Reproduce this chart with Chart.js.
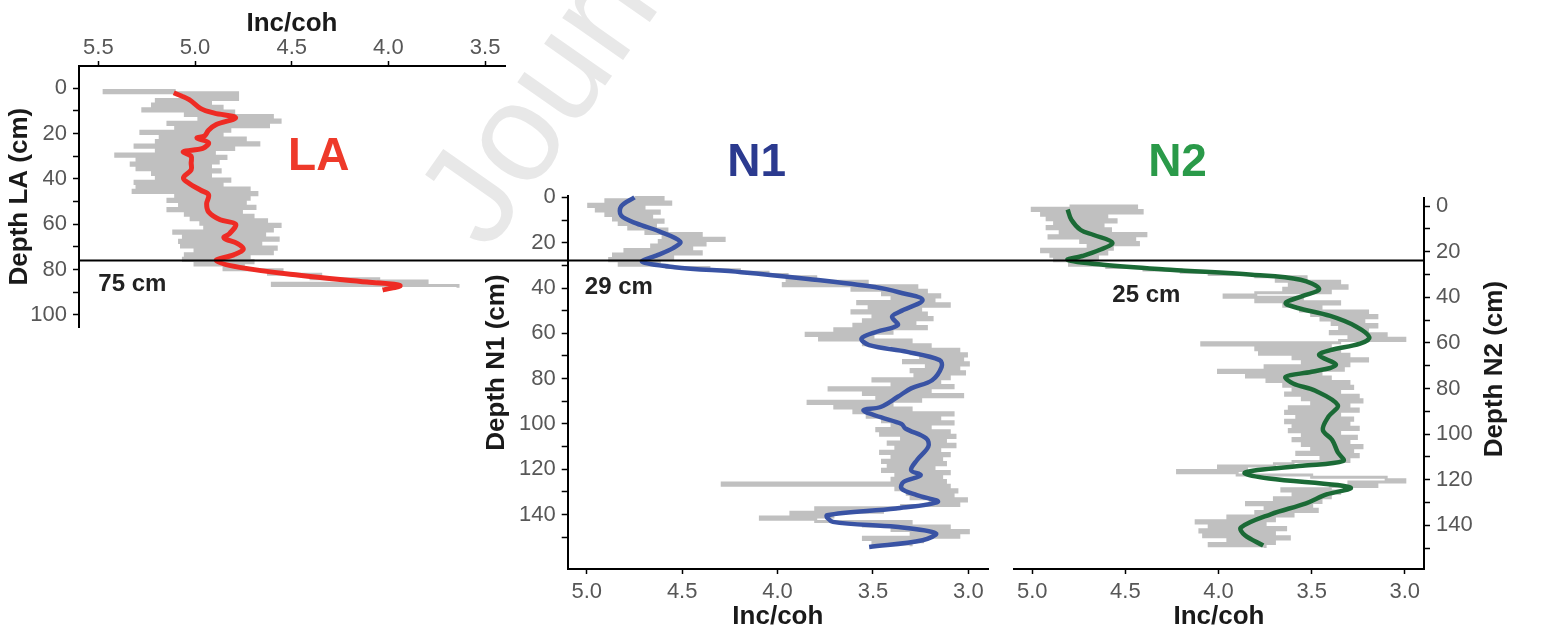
<!DOCTYPE html>
<html>
<head>
<meta charset="utf-8">
<title>Inc/coh depth profiles</title>
<script src="https://cdn.jsdelivr.net/npm/chart.js@4.4.1/dist/chart.umd.min.js"></script>
<style>
  html, body { margin: 0; padding: 0; background: #fff; }
  #stage { position: relative; width: 1543px; height: 634px; overflow: hidden; }
  #stage canvas { position: absolute; left: 0; top: 0; }
  .watermark {
    position: absolute; left: 488px; top: 135px;
    font: 140px 'Liberation Sans', Arial, sans-serif; line-height: 1;
    color: #e8e8e8; white-space: nowrap;
    transform-origin: 0 118px; transform: rotate(-55deg);
  }
</style>
</head>
<body>
<div id="stage">
  <div class="watermark">Journal Pre-proof</div>
  <canvas id="la-chart" width="1543" height="634"></canvas>
  <canvas id="n1-chart" width="1543" height="634"></canvas>
  <canvas id="n2-chart" width="1543" height="634"></canvas>
</div>
<script>
// ---- raw Inc/coh profiles, one value per cm starting at *_RAW_TOP ----
const LA_RAW_TOP = 1;
const LA_RAW = [
  5.10, 5.47, 4.78, 5.05, 4.78, 5.20, 4.92, 5.22, 4.86, 5.27,
  4.80, 5.05, 4.60, 4.98, 4.56, 5.14, 4.62, 5.10, 4.82, 5.28,
  4.86, 5.18, 4.74, 5.20, 4.67, 5.31, 4.80, 5.20, 4.90, 5.41,
  4.84, 5.30, 4.88, 5.33, 4.92, 5.30, 4.87, 5.22, 4.92, 5.20,
  4.82, 5.31, 4.86, 5.30, 4.72, 5.32, 4.68, 5.10, 4.72, 5.14,
  4.74, 5.08, 4.69, 5.14, 4.76, 5.05, 4.70, 5.02, 4.63, 4.97,
  4.56, 4.95, 4.60, 5.11, 4.64, 5.06, 4.57, 5.08, 4.66, 5.07,
  4.58, 5.00, 4.60, 5.05, 4.72, 5.06, 4.70, 5.00, 4.75, 4.85,
  4.55, 4.62, 4.35, 4.40, 4.05, 3.80, 4.60, 3.64
];

const N1_RAW_TOP = 0;
const N1_RAW = [
  4.75, 4.60, 4.90, 4.56, 4.99, 4.70, 4.95, 4.62, 4.90, 4.66,
  4.86, 4.60, 4.83, 4.64, 4.78, 4.58, 4.69, 4.40, 4.60, 4.28,
  4.62, 4.38, 4.66, 4.45, 4.80, 4.40, 4.86, 4.55, 4.88, 4.62,
  4.83, 4.58, 4.36, 4.20, 4.05, 3.95, 3.80, 3.95, 3.53, 3.97,
  3.27, 3.61, 3.22, 3.45, 3.15, 3.40, 3.18, 3.58, 3.10, 3.52,
  3.25, 3.61, 3.22, 3.50, 3.19, 3.55, 3.28, 3.60, 3.22, 3.70,
  3.40, 3.85, 3.50, 3.78, 3.30, 3.55, 3.20, 3.40, 3.05, 3.30,
  3.01, 3.25, 3.03, 3.34, 3.00, 3.22, 3.05, 3.30, 3.02, 3.28,
  3.10, 3.50, 3.15, 3.40, 3.08, 3.73, 3.20, 3.55, 3.03, 3.48,
  3.25, 3.84, 3.40, 3.70, 3.30, 3.60, 3.08, 3.53, 3.15, 3.45,
  3.08, 3.40, 3.20, 3.48, 3.10, 3.46, 3.07, 3.35, 3.12, 3.42,
  3.07, 3.38, 3.15, 3.46, 3.10, 3.40, 3.14, 3.45, 3.12, 3.42,
  3.18, 3.45, 3.10, 3.38, 3.14, 3.40, 3.12, 4.29, 3.10, 3.38,
  3.06, 3.32, 3.08, 3.30, 3.01, 3.20, 3.05, 3.35, 3.80, 3.45,
  3.93, 3.71, 4.09, 3.80, 3.30, 3.55, 3.10, 3.40, 3.00, 3.30,
  3.05, 3.55, 3.24, 3.50, 3.30
];

const N2_RAW_TOP = 0;
const N2_RAW = [
  4.80, 4.44, 5.00, 4.41, 4.95, 4.60, 4.92, 4.55, 4.88, 4.62,
  4.92, 4.58, 4.85, 4.39, 4.91, 4.45, 4.74, 4.43, 4.70, 4.57,
  4.95, 4.60, 4.90, 4.65, 4.88, 4.75, 4.80, 4.60, 4.40, 4.20,
  4.05, 3.80, 3.53, 3.69, 3.35, 3.62, 3.31, 3.65, 3.40, 3.80,
  3.97, 3.55, 3.80, 3.35, 3.65, 3.45, 3.56, 3.20, 3.50, 3.15,
  3.45, 3.22, 3.39, 3.15, 3.35, 3.20, 3.40, 3.10, 3.30, 3.00,
  3.35, 4.09, 3.40, 3.80, 3.35, 3.78, 3.30, 3.60, 3.20, 3.55,
  3.30, 3.75, 3.33, 4.00, 3.45, 3.85, 3.40, 3.74, 3.30, 3.65,
  3.28, 3.60, 3.35, 3.64, 3.25, 3.55, 3.23, 3.50, 3.30, 3.62,
  3.25, 3.64, 3.35, 3.58, 3.28, 3.64, 3.30, 3.60, 3.25, 3.62,
  3.35, 3.55, 3.26, 3.60, 3.30, 3.55, 3.23, 3.50, 3.28, 3.58,
  3.25, 3.45, 3.30, 3.60, 3.70, 4.00, 3.85, 4.22, 3.90, 3.50,
  3.10, 3.00, 3.30, 3.15, 3.40, 3.66, 3.35, 3.60, 3.40, 3.70,
  3.45, 3.85, 3.50, 3.75, 3.47, 3.80, 3.60, 3.95, 3.70, 4.12,
  3.75, 4.05, 3.64, 4.10, 3.70, 4.08, 3.62, 3.95, 3.70, 4.05,
  3.75
];

// ---- smoothed curves (depth in cm, Inc/coh) ----
const LA_SMOOTH_DEPTH = [2, 5, 9, 11, 13, 16, 18.5, 21, 22, 24, 26.5, 28, 30, 33, 36, 39.5, 42, 45, 47, 51, 54.5, 58, 60, 64, 66, 68.5, 71, 73.5, 76, 79, 82.5, 85.5, 87, 89];
const LA_SMOOTH_INC = [5.11, 5.03, 4.97, 4.90, 4.79, 4.89, 4.93, 4.95, 4.99, 4.93, 4.96, 5.06, 5.02, 5.02, 5.02, 5.06, 5.03, 4.97, 4.93, 4.94, 4.93, 4.87, 4.79, 4.82, 4.85, 4.78, 4.75, 4.80, 4.89, 4.77, 4.46, 4.11, 3.94, 4.03];

const N1_SMOOTH_DEPTH = [0, 4, 8, 11.5, 15, 19.5, 22.5, 25.5, 28.4, 30.8, 33, 36, 39.6, 42, 45.3, 50.5, 52.7, 56.4, 59.3, 62.3, 65.2, 68.2, 71.8, 74.8, 80.7, 84.3, 88, 92.5, 94, 97, 100, 102, 106.4, 110, 116, 120.4, 122.6, 125.6, 128.5, 131.4, 134.4, 137.3, 140.3, 143.2, 145.4, 148.3, 151.3, 154.3];
const N1_SMOOTH_INC = [4.75, 4.82, 4.82, 4.74, 4.62, 4.51, 4.55, 4.63, 4.71, 4.54, 4.19, 3.84, 3.49, 3.36, 3.24, 3.36, 3.40, 3.37, 3.48, 3.56, 3.52, 3.32, 3.15, 3.14, 3.19, 3.30, 3.37, 3.46, 3.55, 3.46, 3.35, 3.33, 3.22, 3.21, 3.27, 3.30, 3.25, 3.34, 3.35, 3.27, 3.16, 3.38, 3.74, 3.71, 3.38, 3.17, 3.24, 3.52];

const N2_SMOOTH_DEPTH = [1.5, 6, 10.5, 12.7, 16.1, 19.3, 21.9, 23.6, 25.7, 27.9, 30.1, 32.3, 36.4, 39.5, 42.5, 44.6, 48.2, 52.9, 57.6, 60.3, 63.2, 65.4, 69.7, 72.7, 74.9, 77.8, 81, 87.3, 92.4, 98.2, 102.6, 108, 111.8, 113.9, 115.8, 117.2, 119.5, 122.4, 123.8, 126.5, 130.4, 135.2, 141, 144.3, 148.9];
const N2_SMOOTH_INC = [4.81, 4.79, 4.74, 4.67, 4.57, 4.64, 4.73, 4.81, 4.62, 4.26, 3.82, 3.56, 3.46, 3.55, 3.64, 3.58, 3.40, 3.26, 3.19, 3.24, 3.40, 3.46, 3.37, 3.50, 3.64, 3.60, 3.48, 3.36, 3.41, 3.44, 3.39, 3.36, 3.33, 3.55, 3.79, 3.86, 3.73, 3.36, 3.29, 3.42, 3.53, 3.72, 3.88, 3.86, 3.76];

// ---- ticks ----
const LA_INC_TICKS = [5.5, 5.0, 4.5, 4.0, 3.5];
const CORE_INC_TICKS = [5.0, 4.5, 4.0, 3.5, 3.0];
const LA_DEPTH_TICKS = [0, 10, 20, 30, 40, 50, 60, 70, 80, 90, 100];
const CORE_DEPTH_TICKS = [0, 10, 20, 30, 40, 50, 60, 70, 80, 90, 100, 110, 120, 130, 140, 150];

// depth (LA scale) of the shared horizontal boundary line
const LA_BOUNDARY_DEPTH = 76;

const FONT = "'Liberation Sans', Arial, Helvetica, sans-serif";
const TICK_COLOR = '#575757';
const TITLE_COLOR = '#1a1a1a';
const RAW_GRAY = '#c0c0c0';
const TITLE_FONT = `bold 26px ${FONT}`;
const PANEL_FONT = `bold 46px ${FONT}`;
const NOTE_FONT = `bold 24px ${FONT}`;

Chart.defaults.font.family = FONT;

const charts = {};

function rawPoints(top, values) {
  return values.map((v, i) => ({ x: v, y: top + i }));
}

function smoothPoints(depths, values) {
  return depths.map((d, i) => ({ x: values[i], y: d }));
}

function incAxis(position, min, max, ticks, boxHeight, labelPad, titlePad) {
  return {
    type: 'linear',
    position,
    reverse: true,
    min,
    max,
    afterBuildTicks: (s) => { s.ticks = ticks.map((v) => ({ value: v })); },
    afterFit: (s) => { s.height = boxHeight; },
    ticks: {
      autoSkip: false,
      maxRotation: 0,
      color: TICK_COLOR,
      font: { size: 22 },
      padding: labelPad,
      callback: (v) => Number(v).toFixed(1),
    },
    grid: { drawOnChartArea: false, drawTicks: true, tickLength: 5, tickColor: '#000', tickWidth: 1.5 },
    border: { color: '#000', width: 2 },
    title: {
      display: true,
      text: 'Inc/coh',
      color: TITLE_COLOR,
      font: { size: 26, weight: 'bold' },
      padding: titlePad,
    },
  };
}

// depth axes; their titles are drawn by panelNotes so they read bottom-to-top on both sides
function depthAxis(position, min, max, ticks, boxWidth) {
  return {
    type: 'linear',
    position,
    reverse: true,
    min,
    max,
    afterBuildTicks: (s) => { s.ticks = ticks.map((v) => ({ value: v })); },
    afterFit: (s) => { s.width = boxWidth; },
    ticks: {
      autoSkip: false,
      color: TICK_COLOR,
      font: { size: 22 },
      padding: 6,
      callback: (v) => (v % 20 === 0 ? String(v) : ''),
    },
    grid: { drawOnChartArea: false, drawTicks: true, tickLength: 6, tickColor: '#000', tickWidth: 1.5 },
    border: { color: '#000', width: 2 },
    title: { display: false },
  };
}

// panel names, depth labels and axis titles, placed in data coordinates of each panel
const panelNotes = {
  id: 'panelNotes',
  afterDraw(chart, args, opts) {
    const { ctx } = chart;
    const xs = chart.scales.x;
    const ys = chart.scales.y;
    (opts.items || []).forEach((it) => {
      ctx.save();
      ctx.font = it.font;
      ctx.fillStyle = it.color;
      ctx.textAlign = it.align;
      ctx.textBaseline = 'middle';
      ctx.translate(xs.getPixelForValue(it.inc), ys.getPixelForValue(it.depth));
      if (it.vertical) ctx.rotate(-Math.PI / 2);
      ctx.fillText(it.text, 0, 0);
      ctx.restore();
    });
  },
};

// horizontal line running from the LA axis to the N2 axis
const boundaryLine = {
  id: 'boundaryLine',
  afterDraw(chart) {
    const la = charts.la;
    if (!la) return;
    const { ctx } = chart;
    const y = la.scales.y.getPixelForValue(LA_BOUNDARY_DEPTH);
    ctx.save();
    ctx.strokeStyle = '#000';
    ctx.lineWidth = 2;
    ctx.beginPath();
    ctx.moveTo(la.chartArea.left, y);
    ctx.lineTo(chart.chartArea.right, y);
    ctx.stroke();
    ctx.restore();
  },
};

function profileChart(id, cfg) {
  return new Chart(document.getElementById(id), {
    type: 'scatter',
    data: {
      datasets: [
        {
          data: smoothPoints(cfg.smoothDepth, cfg.smoothInc),
          showLine: true,
          tension: 0.35,
          borderColor: cfg.color,
          borderWidth: cfg.lineWidth,
          pointRadius: 0,
          clip: false,
        },
        {
          data: rawPoints(cfg.rawTop, cfg.raw),
          showLine: true,
          stepped: true,
          borderColor: RAW_GRAY,
          borderWidth: 3,
          pointRadius: 0,
        },
      ],
    },
    options: {
      responsive: false,
      animation: false,
      events: [],
      layout: { padding: cfg.padding },
      plugins: {
        legend: { display: false },
        tooltip: { enabled: false },
        panelNotes: { items: cfg.notes },
      },
      scales: { x: cfg.x, y: cfg.y },
    },
    plugins: cfg.plugins,
  });
}

charts.la = profileChart('la-chart', {
  raw: LA_RAW,
  rawTop: LA_RAW_TOP,
  smoothDepth: LA_SMOOTH_DEPTH,
  smoothInc: LA_SMOOTH_INC,
  color: '#ee2b24',
  lineWidth: 5,
  padding: { left: 0, top: 0, right: 1038, bottom: 307 },
  x: incAxis('top', 3.397, 5.6, LA_INC_TICKS, 66, 0, { top: 8, bottom: 0 }),
  y: depthAxis('left', -9.8, 105.3, LA_DEPTH_TICKS, 79),
  notes: [
    { text: 'Depth LA (cm)', inc: 5.907, depth: 47.8, align: 'center', color: TITLE_COLOR, font: TITLE_FONT, vertical: true },
    { text: 'LA', inc: 4.36, depth: 30.5, align: 'center', color: '#ee3a2a', font: PANEL_FONT },
    { text: '75 cm', inc: 5.5, depth: 86.5, align: 'left', color: '#222', font: NOTE_FONT },
  ],
  plugins: [panelNotes],
});

charts.n1 = profileChart('n1-chart', {
  raw: N1_RAW,
  rawTop: N1_RAW_TOP,
  smoothDepth: N1_SMOOTH_DEPTH,
  smoothInc: N1_SMOOTH_INC,
  color: '#3953a4',
  lineWidth: 4.5,
  padding: { left: 477.7, top: 196, right: 555, bottom: 0 },
  x: incAxis('bottom', 2.897, 5.1, CORE_INC_TICKS, 65, 5, { top: 0, bottom: 2 }),
  y: depthAxis('left', -0.6, 164, CORE_DEPTH_TICKS, 90),
  notes: [
    { text: 'Depth N1 (cm)', inc: 5.47, depth: 72.9, align: 'center', color: TITLE_COLOR, font: TITLE_FONT, vertical: true },
    { text: 'N1', inc: 4.11, depth: -15, align: 'center', color: '#2b3a8f', font: PANEL_FONT },
    { text: '29 cm', inc: 5.01, depth: 39.8, align: 'left', color: '#222', font: NOTE_FONT },
  ],
  plugins: [panelNotes],
});

charts.n2 = profileChart('n2-chart', {
  raw: N2_RAW,
  rawTop: N2_RAW_TOP,
  smoothDepth: N2_SMOOTH_DEPTH,
  smoothInc: N2_SMOOTH_INC,
  color: '#1b6a36',
  lineWidth: 4.5,
  padding: { left: 1014, top: 198.3, right: 29, bottom: 0 },
  x: incAxis('bottom', 2.897, 5.098, CORE_INC_TICKS, 65, 5, { top: 0, bottom: 2 }),
  y: depthAxis('right', -3.4, 159.2, CORE_DEPTH_TICKS, 90),
  notes: [
    { text: 'Depth N2 (cm)', inc: 2.515, depth: 71.5, align: 'center', color: TITLE_COLOR, font: TITLE_FONT, vertical: true },
    { text: 'N2', inc: 4.22, depth: -18.9, align: 'center', color: '#2a9a49', font: PANEL_FONT },
    { text: '25 cm', inc: 4.57, depth: 39, align: 'left', color: '#222', font: NOTE_FONT },
  ],
  plugins: [panelNotes, boundaryLine],
});
</script>
</body>
</html>
